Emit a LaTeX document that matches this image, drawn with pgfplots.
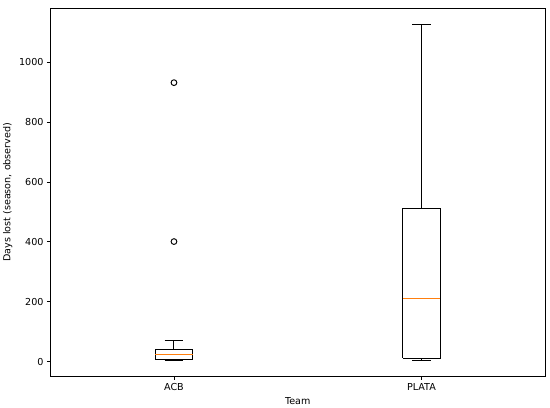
\documentclass[border=0pt]{standalone}
\usepackage{fontspec}
\setmainfont{DejaVu Sans}
\usepackage{pgfplots}
\pgfplotsset{compat=1.18}
\definecolor{mplorange}{HTML}{FF7F0E}

\begin{document}
\begin{tikzpicture}
\begin{axis}[
  width=516pt, height=384pt,
  scale only axis,
  xmin=0.5, xmax=2.5,
  ymin=-50, ymax=1181,
  xtick={1,2},
  xticklabels={ACB,PLATA},
  ytick={0,200,400,600,800,1000},
  tick align=outside,
  tick pos=left,
  major tick length=3.5pt,
  tick style={black, line width=0.8pt},
  axis line style={line width=0.8pt},
  xlabel={Team},
  ylabel={Days lost (season, observed)},
  label style={font=\fontsize{10}{12}\selectfont},
  ticklabel style={font=\fontsize{10}{12}\selectfont},
  /pgf/number format/assume math mode=true,
  /pgf/number format/1000 sep={},
  every axis plot/.append style={line width=1pt},
]
% ACB: box, whiskers, caps, median, outliers
\addplot[black, mark=none] coordinates {(0.925,6) (1.075,6) (1.075,41) (0.925,41) (0.925,6)};
\addplot[black, mark=none] coordinates {(1,41) (1,70)};
\addplot[black, mark=none] coordinates {(1,6) (1,3)};
\addplot[black, mark=none] coordinates {(0.9625,70) (1.0375,70)};
\addplot[black, mark=none] coordinates {(0.9625,3) (1.0375,3)};
\addplot[mplorange, mark=none] coordinates {(0.925,22) (1.075,22)};
\addplot[black, only marks, mark=o, mark size=3pt] coordinates {(1,401) (1,932)};
% PLATA
\addplot[black, mark=none] coordinates {(1.925,11) (2.075,11) (2.075,510) (1.925,510) (1.925,11)};
\addplot[black, mark=none] coordinates {(2,510) (2,1128)};
\addplot[black, mark=none] coordinates {(2,11) (2,3)};
\addplot[black, mark=none] coordinates {(1.9625,1128) (2.0375,1128)};
\addplot[black, mark=none] coordinates {(1.9625,3) (2.0375,3)};
\addplot[mplorange, mark=none] coordinates {(1.925,210) (2.075,210)};
\end{axis}
\path (current axis.north east) ++(5pt,8.5pt);
\end{tikzpicture}
\end{document}
